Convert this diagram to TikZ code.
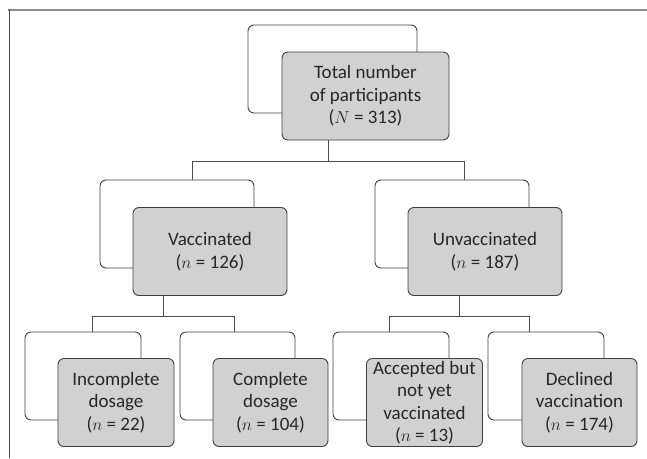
\documentclass[tikz,border=0pt]{standalone}
\usepackage{fontspec}
\setmainfont{Carlito}
\usepackage{tikz}

\begin{document}
\begin{tikzpicture}[x=1pt,y=-1pt,
back/.style={%
draw=black!75, fill=white, rounded corners=6pt, line width=0.9pt,
minimum height=88pt, inner sep=0pt
},
front/.style={%
draw=black!75, fill=black!18, rounded corners=6pt, line width=0.9pt,
minimum height=88pt, inner sep=0pt, align=center, text=black!85,
font=\fontsize{19}{22.5}\selectfont
},
link/.style={draw=black!70, line width=0.9pt}
]
\useasboundingbox (0,0) rectangle (647,458);
%% frame
\draw[black!45, line width=2pt](8,10)--(647,10);
\draw[black!70, line width=1.2pt](9.5,9)--(9.5,458);
%% Total
\node[back, minimum width=169pt]at(332.5,69)(tb){};
\node[front, minimum width=167pt]at(365.5,96)(tf){Total number\\of participants\\($N$ = 313)};
%% Vaccinated / Unvaccinated
\node[back, minimum width=154pt]at(177,224)(vb){};
\node[front, minimum width=154pt]at(210,251.5)(vf){Vaccinated\\($n$ = 126)};
\node[back, minimum width=154pt]at(452,224)(ub){};
\node[front, minimum width=154pt]at(485,251.5)(uf){Unvaccinated\\($n$ = 187)};
%% dosage
\node[back, minimum width=116pt]at(83,376)(ib){};
\node[front, minimum width=116pt]at(116,402.5)(if){Incomplete\\dosage\\($n$ = 22)};
\node[back, minimum width=115pt]at(237.5,376)(cb){};
\node[front, minimum width=115pt]at(270.5,402.5)(cf){Complete\\dosage\\($n$ = 104)};
%% unvaccinated split
\node[back, minimum width=116pt]at(391,376)(ab){};
\node[front, minimum width=116pt]at(424.5,402.5)(af){Accepted but\\not yet\\vaccinated\\($n$ = 13)};
\node[back, minimum width=116pt]at(546,376)(db){};
\node[front, minimum width=115pt]at(579.5,402.5)(df){Declined\\vaccination\\($n$ = 174)};
%% links
\draw[link]([xshift=-37.5pt]tf.south)--++(0,21)coordinate(j0);
\draw[link](j0)-|([xshift=15pt]vb.north);
\draw[link](j0)-|([xshift=12pt]ub.north);
\draw[link]([xshift=-47pt]vf.south)--++(0,20)coordinate(j1);
\draw[link](j1)-|([xshift=9pt]ib.north);
\draw[link](j1)-|([xshift=-3.5pt]cb.north);
\draw[link]([xshift=-26pt]uf.south)--++(0,20)coordinate(j2);
\draw[link](j2)-|([xshift=-2pt]ab.north);
\draw[link](j2)-|([xshift=-17pt]db.north);
\end{tikzpicture}
\end{document}
